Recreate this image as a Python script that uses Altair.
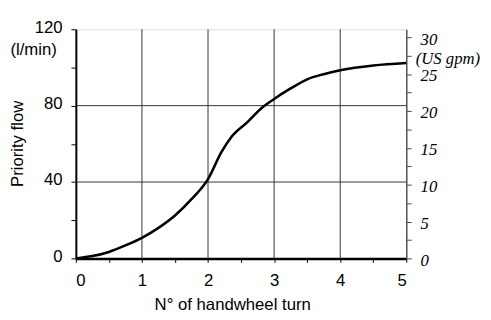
import altair as alt
import pandas as pd

# Curve
turns = [0, 0.25, 0.5, 0.75, 1.0, 1.25, 1.5, 1.75, 2.0, 2.2, 2.35, 2.6, 2.82, 3.0, 3.25, 3.5, 3.75, 4.0, 4.5, 5.0]
flow_lmin = [0, 1.2, 3.4, 6.8, 10.8, 16, 22.5, 31, 41.5, 55.5, 63.5, 71.5, 79, 83.5, 89, 93.8, 96.5, 98.5, 101, 102.3]

x_ticks = [0, 0.5, 1, 1.5, 2, 2.5, 3, 3.5, 4, 4.5, 5]
x_grid = [1, 2, 3, 4]
y_ticks = [0, 20, 40, 60, 80, 100, 120]
y_grid = [40, 80]
gpm_ticks = [0, 2.5, 5, 7.5, 10, 12.5, 15, 17.5, 20, 22.5, 25, 27.5, 30]
unit_left = ["(l/min)"]

SANS = "Liberation Sans"
SERIF = "Liberation Serif"

curve = pd.DataFrame({"turn": turns, "flow": flow_lmin})

xs = alt.Scale(domain=[0, 5], nice=False, zero=False)
ys = alt.Scale(domain=[0, 120], nice=False)

x_axis = alt.Axis(
    values=x_ticks, labelExpr="datum.value % 1 === 0 ? format(datum.value, 'd') : ''",
    grid=False, tickSize=4, tickColor="black", domainColor="black", domainWidth=2.5,
    labelFont=SANS, labelFontSize=17, labelColor="black", labelPadding=11,
    title="N° of handwheel turn", titleFont=SANS, titleFontSize=17, titleFontWeight="normal",
    titleColor="black", titleX=159, titleY=47, titleAlign="center", titleBaseline="middle",
)
y_axis = alt.Axis(
    values=y_ticks, labelExpr="datum.value % 40 === 0 ? datum.label : ''",
    grid=False, tickSize=5, tickColor="black", domainColor="black", domainWidth=2,
    labelFont=SANS, labelFontSize=17, labelColor="black", labelPadding=9, labelOffset=-2,
    title="Priority flow", titleFont=SANS, titleFontSize=17, titleFontWeight="normal",
    titleColor="black", titleX=-59, titleY=116, titleAngle=-90, titleAlign="center",
    titleBaseline="middle",
)

vgrid = alt.Chart(pd.DataFrame({"g": x_grid})).mark_rule(color="#333333", strokeWidth=1).encode(
    x=alt.X("g:Q", scale=xs, axis=x_axis)
)
hgrid = alt.Chart(pd.DataFrame({"g": y_grid})).mark_rule(color="#333333", strokeWidth=1).encode(
    y=alt.Y("g:Q", scale=ys, axis=y_axis)
)
line = alt.Chart(curve).mark_line(color="black", strokeWidth=2.6, interpolate="monotone").encode(
    x=alt.X("turn:Q", scale=xs, axis=x_axis),
    y=alt.Y("flow:Q", scale=ys, axis=y_axis),
)
unit_txt = alt.Chart(pd.DataFrame({"t": unit_left})).mark_text(
    font=SANS, fontSize=17, color="black", align="center", baseline="middle"
).encode(x=alt.value(-43), y=alt.value(21), text="t:N")

left = alt.layer(vgrid, hgrid, line, unit_txt)

right = alt.Chart(pd.DataFrame({"v": gpm_ticks})).mark_point(opacity=0).encode(
    y=alt.Y("v:Q", scale=alt.Scale(domain=[0, 31.07], nice=False),
            axis=alt.Axis(
                orient="right", values=gpm_ticks,
                labelExpr="datum.value % 5 === 0 ? format(datum.value, 'd') : ''",
                grid=False, tickSize=5, tickColor="#444444", domainColor="#555555", domainWidth=1.5,
                labelFont=SERIF, labelFontStyle="italic", labelFontSize=17, labelColor="black",
                labelPadding=9, labelOffset=2,
                title="(US gpm)", titleFont=SERIF, titleFontStyle="italic", titleFontSize=17,
                titleFontWeight="normal", titleColor="black", titleAngle=0, titleX=9, titleY=30,
                titleAlign="left", titleBaseline="middle",
            ))
)

chart = alt.layer(left, right).resolve_scale(y="independent").properties(
    width=336, height=233,
    autosize=alt.AutoSizeParams(type="none"),
    padding={"left": 69, "top": 19, "right": 78, "bottom": 60},
).configure_view(stroke="black", strokeWidth=2).configure(background="white")

chart.save("out.html", embed_options={"renderer": "svg", "actions": False})
